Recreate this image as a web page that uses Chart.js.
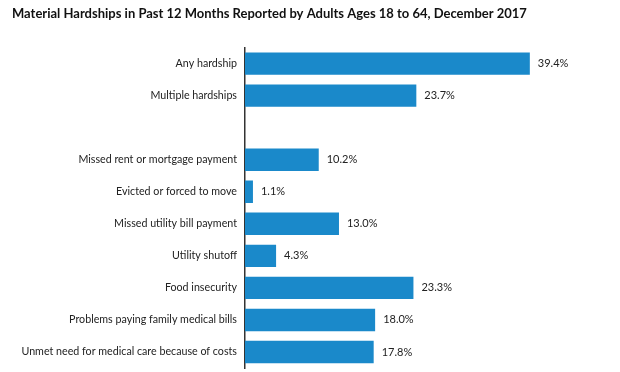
<!DOCTYPE html>
<html>
<head>
<meta charset="utf-8">
<script src="https://cdn.jsdelivr.net/npm/chart.js@4"></script>
<style>
  html, body { margin: 0; padding: 0; background: #fff; }
  #wrap { width: 620px; height: 372px; }
</style>
</head>
<body>
<div id="wrap"><canvas id="chHard"></canvas></div>
<script>
var categories = [
  'Any hardship',
  'Multiple hardships',
  '',
  'Missed rent or mortgage payment',
  'Evicted or forced to move',
  'Missed utility bill payment',
  'Utility shutoff',
  'Food insecurity',
  'Problems paying family medical bills',
  'Unmet need for medical care because of costs'
];
var shares = [39.4, 23.7, null, 10.2, 1.1, 13.0, 4.3, 23.3, 18.0, 17.8];

var barColor = '#1a89ca';

// write the value just past the end of each bar
var valueLabels = {
  id: 'valueLabels',
  afterDatasetsDraw: function(chart) {
    var ctx = chart.ctx;
    var meta = chart.getDatasetMeta(0);
    ctx.save();
    ctx.font = '11px Lato';
    ctx.fillStyle = '#222';
    ctx.textBaseline = 'middle';
    ctx.textAlign = 'left';
    meta.data.forEach(function(bar, i) {
      if (shares[i] == null) return;
      ctx.fillText(shares[i].toFixed(1) + '%', bar.x + 8, bar.y);
    });
    ctx.restore();
  }
};

new Chart(document.getElementById('chHard'), {
  type: 'bar',
  data: {
    labels: categories,
    datasets: [{
      data: shares,
      backgroundColor: barColor,
      borderWidth: 0,
      barPercentage: 0.7,
      categoryPercentage: 1.0
    }]
  },
  options: {
    indexAxis: 'y',
    responsive: true,
    maintainAspectRatio: false,
    animation: false,
    layout: { padding: { left: 12, right: 28, top: 0, bottom: 4 } },
    plugins: {
      legend: { display: false },
      tooltip: { enabled: false },
      title: {
        display: true,
        text: 'Material Hardships in Past 12 Months Reported by Adults Ages 18 to 64, December 2017',
        align: 'start',
        color: '#111',
        font: { family: 'Lato', size: 13, weight: 'bold' },
        padding: { top: 6, bottom: 26 }
      }
    },
    scales: {
      x: {
        display: false,
        min: 0,
        max: 48
      },
      y: {
        afterFit: function(scale) {
          scale.width = 233;
          scale.paddingTop = 0;
          scale.paddingBottom = 0;
        },
        grid: { display: false, drawTicks: false },
        border: { display: true, color: '#333', width: 1.5 },
        ticks: {
          padding: 8,
          color: '#222',
          font: { family: 'Lato', size: 10.7 }
        }
      }
    }
  },
  plugins: [valueLabels]
});
</script>
</body>
</html>
